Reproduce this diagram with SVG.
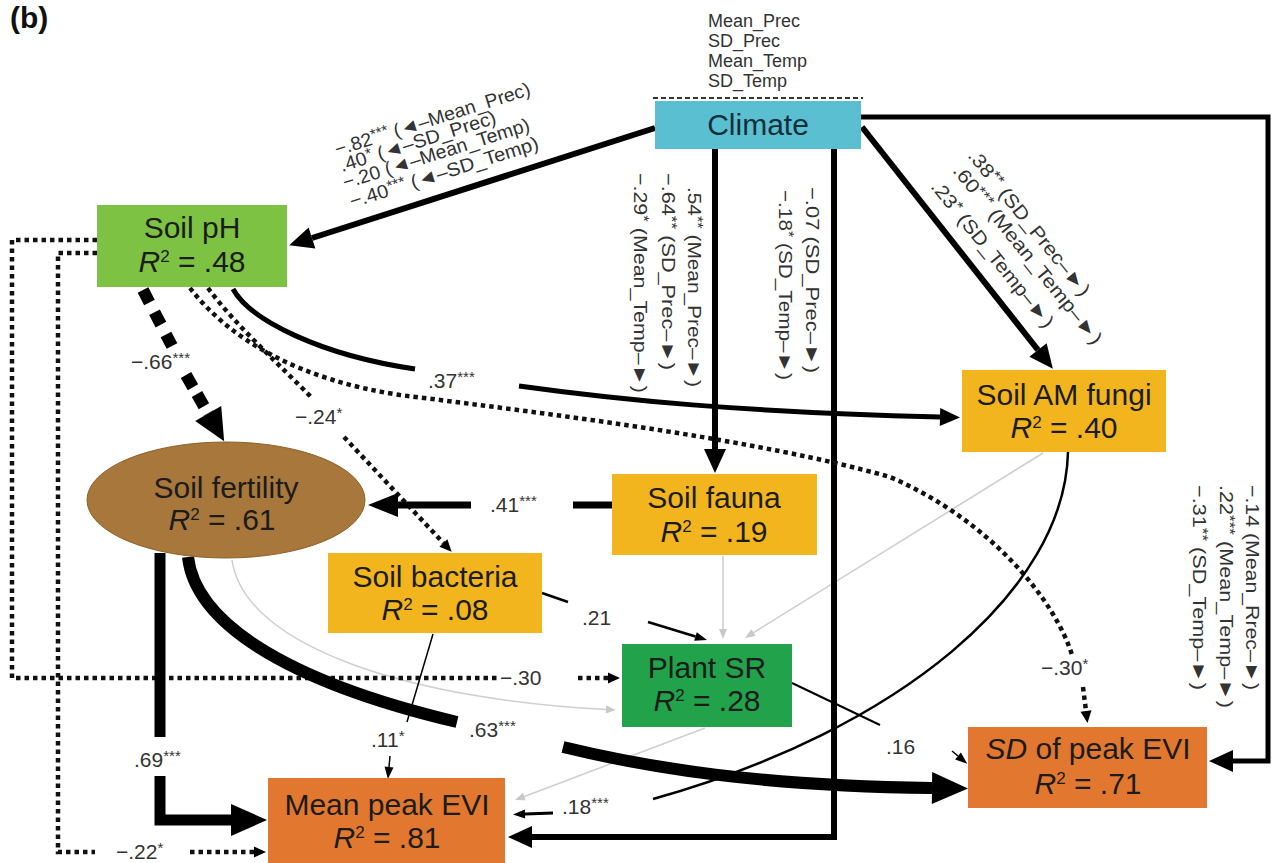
<svg xmlns="http://www.w3.org/2000/svg" width="1273" height="863" viewBox="0 0 1273 863">
<style>
text{font-family:"Liberation Sans",Arial,Helvetica,sans-serif}
.n{font-size:30px;fill:#1c1c1c;text-anchor:middle}
.l{font-size:21px;fill:#333}
.a{font-size:19px;fill:#333}
.c{font-size:18px;fill:#333}
.s{font-size:15px}
.k{fill:none;stroke:#000}
.dot{fill:none;stroke:#111;stroke-width:4.5;stroke-dasharray:4.5 4}
.g{fill:none;stroke:#cfcfcf;stroke-width:1.6}
</style>
<defs>
<marker id="mA" markerUnits="userSpaceOnUse" markerWidth="24" markerHeight="22" refX="0" refY="11" orient="auto" overflow="visible"><path d="M0,0 L24,11 L0,22 z" fill="#000"/></marker>
<marker id="mB" markerUnits="userSpaceOnUse" markerWidth="36" markerHeight="32" refX="0" refY="16" orient="auto" overflow="visible"><path d="M0,0 L36,16 L0,32 z" fill="#000"/></marker>
<marker id="mC" markerUnits="userSpaceOnUse" markerWidth="32" markerHeight="30" refX="0" refY="15" orient="auto" overflow="visible"><path d="M0,0 L32,15 L0,30 z" fill="#000"/></marker>
<marker id="mD" markerUnits="userSpaceOnUse" markerWidth="30" markerHeight="24" refX="0" refY="12" orient="auto" overflow="visible"><path d="M0,0 L30,12 L0,24 z" fill="#000"/></marker>
<marker id="mE" markerUnits="userSpaceOnUse" markerWidth="20" markerHeight="18" refX="0" refY="9" orient="auto" overflow="visible"><path d="M0,0 L20,9 L0,18 z" fill="#000"/></marker>
<marker id="mS" markerUnits="userSpaceOnUse" markerWidth="12" markerHeight="9" refX="0" refY="4.5" orient="auto" overflow="visible"><path d="M0,0 L12,4.5 L0,9 z" fill="#000"/></marker>
<marker id="mDot" markerUnits="userSpaceOnUse" markerWidth="12" markerHeight="11" refX="0" refY="5.5" orient="auto" overflow="visible"><path d="M0,0 L12,5.5 L0,11 z" fill="#000"/></marker>
<marker id="mG" markerUnits="userSpaceOnUse" markerWidth="10" markerHeight="8" refX="0" refY="4" orient="auto" overflow="visible"><path d="M0,0 L10,4 L0,8 z" fill="#c8c8c8"/></marker>
</defs>
<rect width="1273" height="863" fill="#fff"/>

<text x="10" y="28" style="font-size:30px;font-weight:bold;fill:#111">(b)</text>

<g id="connectors">
  <!-- gray non-significant -->
  <path class="g" d="M723,556 V629" marker-end="url(#mG)"/>
  <path class="g" d="M1043,453 L753.5,632.7" marker-end="url(#mG)"/>
  <path class="g" d="M232,560 C245,650 420,700 606,709.5" marker-end="url(#mG)"/>
  <path class="g" d="M705,728 L524.4,796.5" marker-end="url(#mG)"/>

  <!-- Climate arrows -->
  <path class="k" stroke-width="6" d="M655,128 L312,238" marker-end="url(#mA)"/>
  <path class="k" stroke-width="6" d="M715,149 V449" marker-end="url(#mA)"/>
  <path class="k" stroke-width="6" d="M834,149 V837 H532" marker-end="url(#mA)"/>
  <path class="k" stroke-width="6" d="M862,127 L1038,350" marker-end="url(#mA)"/>
  <path class="k" stroke-width="5" d="M861,117 H1268 V761 H1233" marker-end="url(#mA)"/>

  <!-- Soil pH -> Soil fertility (-.66) -->
  <path class="k" stroke-width="12" stroke-dasharray="14 11" d="M143,290 L172,346"/>
  <path class="k" stroke-width="12" stroke-dasharray="14 8" d="M186,375 L208.2,413.6" marker-end="url(#mC)"/>

  <!-- Soil pH -> Soil AM fungi (.37) -->
  <path class="k" stroke-width="5" d="M233,289 C250,320 320,355 415,369"/>
  <path class="k" stroke-width="5" d="M519,386 C620,400 740,412 940,417" marker-end="url(#mE)"/>

  <!-- Soil pH -> SD of peak EVI (-.30*) dotted -->
  <path class="dot" d="M190,288 C230,340 300,380 400,395 C560,415 760,440 890,477 C990,520 1055,600 1072,655"/>
  <path class="dot" d="M1083,687 L1086,711" marker-end="url(#mDot)"/>

  <!-- Soil pH -> Soil bacteria (-.24*) dotted -->
  <path class="dot" stroke-width="3.8" d="M208,288 C235,325 280,365 312,398"/>
  <path class="dot" stroke-width="3.8" d="M344,437 L443.4,543" marker-end="url(#mDot)"/>

  <!-- Soil pH -> Plant SR (-.30) dotted -->
  <path class="dot" d="M97,240 H12 V678 H497"/>
  <path class="dot" d="M578,678 H608" marker-end="url(#mDot)"/>

  <!-- Soil pH -> Mean peak EVI (-.22*) dotted -->
  <path class="dot" d="M97,253 H58 V852 H95"/>
  <path class="dot" d="M190,852 H254" marker-end="url(#mDot)"/>

  <!-- Soil fertility -> Mean peak EVI (.69) -->
  <path class="k" stroke-width="11" d="M160,553 V737"/>
  <path class="k" stroke-width="11" d="M160,776 V820 H231" marker-end="url(#mB)"/>

  <!-- Soil fertility -> SD of peak EVI (.63) -->
  <path class="k" stroke-width="12" d="M188,557 C195,620 280,680 457,722"/>
  <path class="k" stroke-width="12" d="M563,747 C650,768 760,786 932,788" marker-end="url(#mB)"/>

  <!-- Soil fauna -> Soil fertility (.41) -->
  <path class="k" stroke-width="7" d="M612,505 H573"/>
  <path class="k" stroke-width="7" d="M471,505 H398" marker-end="url(#mD)"/>

  <!-- Soil bacteria -> Plant SR (.21) -->
  <path class="k" stroke-width="2.5" d="M542,593 L568,602"/>
  <path class="k" stroke-width="2.5" d="M648,622 L695.5,636.5" marker-end="url(#mS)"/>

  <!-- Soil bacteria -> Mean peak EVI (.11*) -->
  <path class="k" stroke-width="1.5" d="M433,634 L407,722"/>
  <path class="k" stroke-width="1.5" d="M390,756 L389,767" marker-end="url(#mS)"/>

  <!-- Plant SR -> SD of peak EVI (.16) -->
  <path class="k" stroke-width="2" d="M792,683 L880,725"/>
  <path class="k" stroke-width="1.5" d="M952,751 L958,756" marker-end="url(#mS)"/>

  <!-- Soil AM fungi -> Mean peak EVI (.18***) -->
  <path class="k" stroke-width="2.5" d="M1068,452 C1065,590 900,730 653,799"/>
  <path class="k" stroke-width="3" d="M553,813 L525,814" marker-end="url(#mS)"/>
</g>

<g id="edge-labels">
  <text class="l" x="131" y="369">−.66<tspan class="s" dy="-6">***</tspan></text>
  <text class="l" x="428" y="388">.37<tspan class="s" dy="-6">***</tspan></text>
  <text class="l" x="295" y="424">−.24<tspan class="s" dy="-6">*</tspan></text>
  <text class="l" x="490" y="512">.41<tspan class="s" dy="-6">***</tspan></text>
  <text class="l" x="582" y="625">.21</text>
  <text class="l" x="500" y="685">−.30</text>
  <text class="l" x="371" y="747">.11<tspan class="s" dy="-6">*</tspan></text>
  <text class="l" x="469" y="737">.63<tspan class="s" dy="-6">***</tspan></text>
  <text class="l" x="134" y="767">.69<tspan class="s" dy="-6">***</tspan></text>
  <text class="l" x="116" y="859">−.22<tspan class="s" dy="-6">*</tspan></text>
  <text class="l" x="562" y="814">.18<tspan class="s" dy="-6">***</tspan></text>
  <text class="l" x="886" y="754">.16</text>
  <text class="l" x="1041" y="675">−.30<tspan class="s" dy="-6">*</tspan></text>

  <!-- Climate -> Soil pH -->
  <text class="a" transform="translate(337,156) rotate(-17.5)" textLength="204" lengthAdjust="spacingAndGlyphs">−.82<tspan class="s" dy="-5">***</tspan><tspan dy="5"> (◄–Mean_Prec)</tspan></text>
  <text class="a" transform="translate(342,172) rotate(-17.5)" textLength="163" lengthAdjust="spacingAndGlyphs">.40<tspan class="s" dy="-5">*</tspan><tspan dy="5"> (◄–SD_Prec)</tspan></text>
  <text class="a" transform="translate(345,189) rotate(-17.5)" textLength="195" lengthAdjust="spacingAndGlyphs">−.20 (◄–Mean_Temp)</text>
  <text class="a" transform="translate(352,208) rotate(-17.5)" textLength="197" lengthAdjust="spacingAndGlyphs">−.40<tspan class="s" dy="-5">***</tspan><tspan dy="5"> (◄–SD_Temp)</tspan></text>

  <!-- Climate -> Soil fauna -->
  <text class="a" transform="translate(688,187) rotate(90)" textLength="200" lengthAdjust="spacingAndGlyphs">.54<tspan class="s" dy="-5">**</tspan><tspan dy="5"> (Mean_Prec–►)</tspan></text>
  <text class="a" transform="translate(662,173) rotate(90)" textLength="197" lengthAdjust="spacingAndGlyphs">−.64<tspan class="s" dy="-5">**</tspan><tspan dy="5"> (SD_Prec–►)</tspan></text>
  <text class="a" transform="translate(634,173) rotate(90)" textLength="220" lengthAdjust="spacingAndGlyphs">−.29<tspan class="s" dy="-5">*</tspan><tspan dy="5"> (Mean_Temp–►)</tspan></text>

  <!-- Climate -> Mean peak EVI -->
  <text class="a" transform="translate(806,187) rotate(90)" textLength="186" lengthAdjust="spacingAndGlyphs">−.07 (SD_Prec–►)</text>
  <text class="a" transform="translate(779,190) rotate(90)" textLength="190" lengthAdjust="spacingAndGlyphs">−.18<tspan class="s" dy="-5">*</tspan><tspan dy="5"> (SD_Temp–►)</tspan></text>

  <!-- Climate -> Soil AM fungi -->
  <text class="a" transform="translate(967,156) rotate(51)" textLength="182" lengthAdjust="spacingAndGlyphs">.38<tspan class="s" dy="-5">**</tspan><tspan dy="5"> (SD_Prec–►)</tspan></text>
  <text class="a" transform="translate(952,171) rotate(51)" textLength="225" lengthAdjust="spacingAndGlyphs">.60<tspan class="s" dy="-5">***</tspan><tspan dy="5"> (Mean_Temp–►)</tspan></text>
  <text class="a" transform="translate(930,187) rotate(51)" textLength="183" lengthAdjust="spacingAndGlyphs">.23<tspan class="s" dy="-5">*</tspan><tspan dy="5"> (SD_Temp–►)</tspan></text>

  <!-- Climate -> SD of peak EVI -->
  <text class="a" transform="translate(1246,485) rotate(90)" textLength="205" lengthAdjust="spacingAndGlyphs">−.14 (Mean_Rrec–►)</text>
  <text class="a" transform="translate(1220,485) rotate(90)" textLength="223" lengthAdjust="spacingAndGlyphs">.22<tspan class="s" dy="-5">***</tspan><tspan dy="5"> (Mean_Temp–►)</tspan></text>
  <text class="a" transform="translate(1193,485) rotate(90)" textLength="205" lengthAdjust="spacingAndGlyphs">−.31<tspan class="s" dy="-5">**</tspan><tspan dy="5"> (SD_Temp–►)</tspan></text>
</g>

<g id="climate">
  <text class="c" x="708" y="27">Mean_Prec</text>
  <text class="c" x="708" y="47">SD_Prec</text>
  <text class="c" x="708" y="67">Mean_Temp</text>
  <text class="c" x="708" y="87">SD_Temp</text>
  <path d="M653,98 H863" stroke="#333" stroke-width="2" stroke-dasharray="5 3" fill="none"/>
  <rect x="655" y="101" width="206" height="48" fill="#5bbfd2"/>
  <text class="n" x="758" y="135" style="fill:#12303a">Climate</text>
</g>

<g id="soil-ph">
  <rect x="97" y="205" width="190" height="82" fill="#7dc242"/>
  <text class="n" x="192" y="238">Soil pH</text>
  <text class="n" x="192" y="272"><tspan font-style="italic">R</tspan><tspan font-size="17" dy="-10">2</tspan><tspan dy="10"> = .48</tspan></text>
</g>

<g id="soil-am-fungi">
  <rect x="962" y="370" width="204" height="82" fill="#f2b51e"/>
  <text class="n" x="1064" y="405">Soil AM fungi</text>
  <text class="n" x="1064" y="438"><tspan font-style="italic">R</tspan><tspan font-size="17" dy="-10">2</tspan><tspan dy="10"> = .40</tspan></text>
</g>

<g id="soil-fertility">
  <ellipse cx="226" cy="500" rx="139" ry="58" fill="#a8773b" stroke="#8c6029" stroke-width="1"/>
  <text class="n" x="226" y="498">Soil fertility</text>
  <text class="n" x="222" y="530"><tspan font-style="italic">R</tspan><tspan font-size="17" dy="-10">2</tspan><tspan dy="10"> = .61</tspan></text>
</g>

<g id="soil-fauna">
  <rect x="612" y="474" width="205" height="81" fill="#f2b51e"/>
  <text class="n" x="714" y="508">Soil fauna</text>
  <text class="n" x="714" y="542"><tspan font-style="italic">R</tspan><tspan font-size="17" dy="-10">2</tspan><tspan dy="10"> = .19</tspan></text>
</g>

<g id="soil-bacteria">
  <rect x="328" y="553" width="214" height="80" fill="#f2b51e"/>
  <text class="n" x="435" y="587">Soil bacteria</text>
  <text class="n" x="435" y="620"><tspan font-style="italic">R</tspan><tspan font-size="17" dy="-10">2</tspan><tspan dy="10"> = .08</tspan></text>
</g>

<g id="plant-sr">
  <rect x="622" y="644" width="170" height="83" fill="#21a24b"/>
  <text class="n" x="707" y="678">Plant SR</text>
  <text class="n" x="707" y="711"><tspan font-style="italic">R</tspan><tspan font-size="17" dy="-10">2</tspan><tspan dy="10"> = .28</tspan></text>
</g>

<g id="sd-peak-evi">
  <rect x="968" y="727" width="239" height="81" fill="#e2782f"/>
  <text class="n" x="1088" y="759"><tspan font-style="italic">SD</tspan> of peak EVI</text>
  <text class="n" x="1088" y="794"><tspan font-style="italic">R</tspan><tspan font-size="17" dy="-10">2</tspan><tspan dy="10"> = .71</tspan></text>
</g>

<g id="mean-peak-evi">
  <rect x="268" y="778" width="237" height="85" fill="#e2782f"/>
  <text class="n" x="387" y="815">Mean peak EVI</text>
  <text class="n" x="387" y="848"><tspan font-style="italic">R</tspan><tspan font-size="17" dy="-10">2</tspan><tspan dy="10"> = .81</tspan></text>
</g>
</svg>
